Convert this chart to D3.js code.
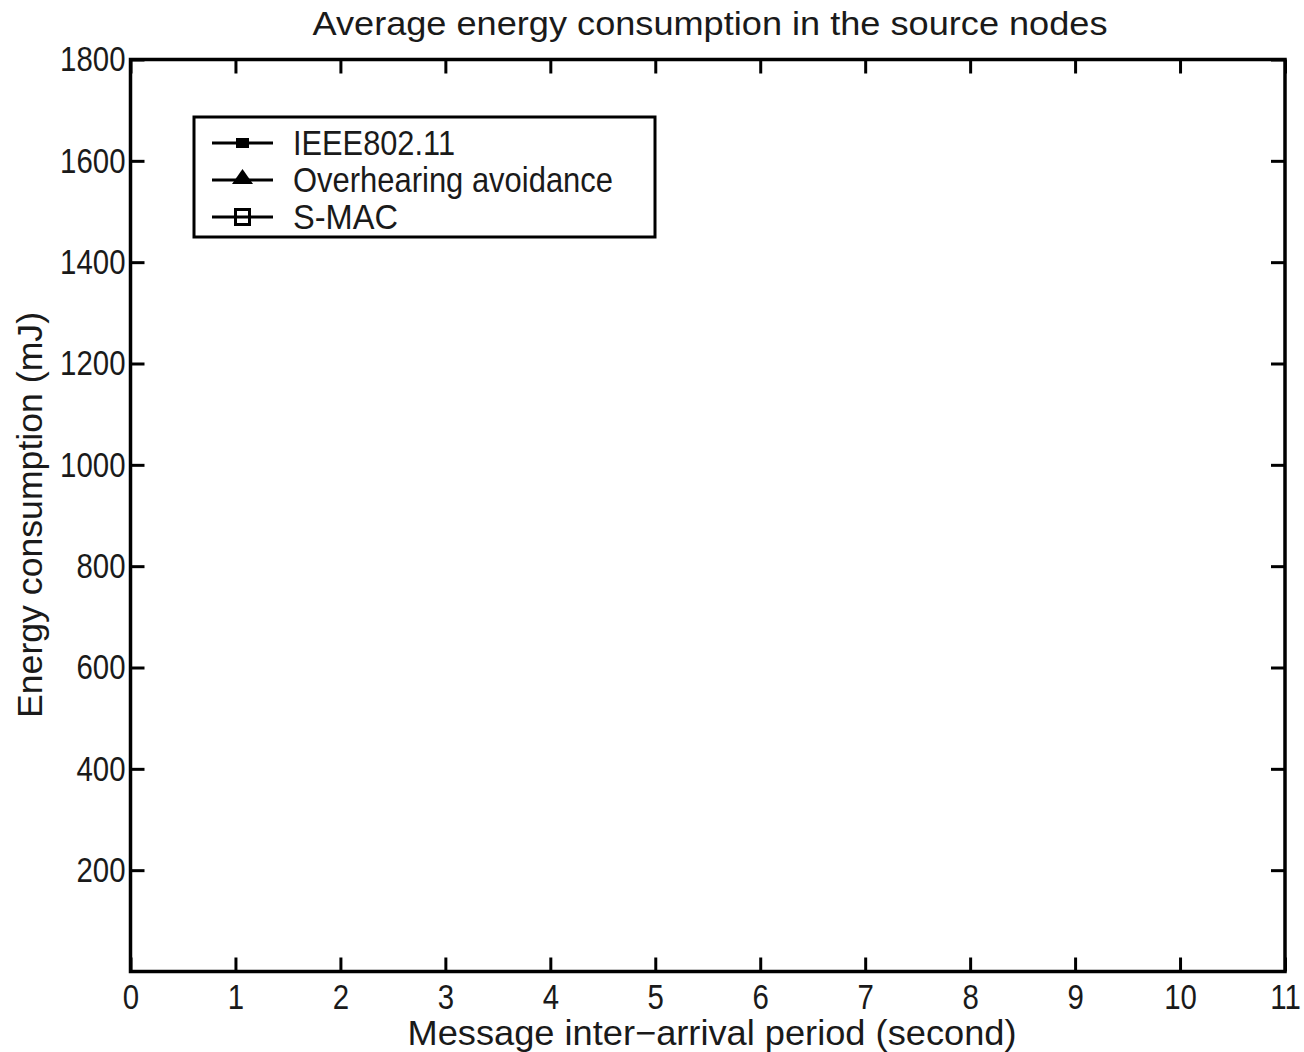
<!DOCTYPE html>
<html>
<head>
<meta charset="utf-8">
<script src="https://cdn.jsdelivr.net/npm/d3@7"></script>
<style>
  html, body { margin: 0; padding: 0; background: #fff; }
  svg text { font-family: "Liberation Sans", Arial, Helvetica, sans-serif; fill: #1a1a1a; }
</style>
</head>
<body>
<svg id="chart" width="1304" height="1052"></svg>
<script>
// chart data -- the figure has no plotted points, only the legend entries
var seriesNames = ['IEEE802.11', 'Overhearing avoidance', 'S-MAC'],
    seriesMarkers = ['square', 'triangle', 'openSquare'],
    seriesValues = [[], [], []],           // [x, y] pairs, empty in the source figure
    xDomain = [0, 11],
    yDomain = [0, 1800],
    xTicks = d3.range(0, 12, 1),
    yTicks = d3.range(200, 1801, 200),
    titleText = 'Average energy consumption in the source nodes',
    xLabel = 'Message inter\u2212arrival period (second)',
    yLabel = 'Energy consumption (mJ)';

var svg = d3.select('#chart'),
    margin = {top: 59.5, right: 19, bottom: 80.5, left: 130.5},
    width = 1304 - margin.left - margin.right,
    height = 1052 - margin.top - margin.bottom,
    x = d3.scaleLinear().domain(xDomain).range([0, width]),
    y = d3.scaleLinear().domain(yDomain).range([height, 0]),
    fontSize = 35,
    tickLen = 14;

var g = svg.append('g')
  .attr('transform', 'translate(' + margin.left + ',' + margin.top + ')');

// squeeze text horizontally, the scanned figure uses a narrow face
function narrow(sel, k) {
  sel.each(function() {
    var w = this.getComputedTextLength();
    d3.select(this).attr('textLength', w * k).attr('lengthAdjust', 'spacingAndGlyphs');
  });
}

function styleAxis(a) {
  a.select('.domain').remove();
  a.selectAll('line').attr('stroke', '#000').attr('stroke-width', 3);
  a.selectAll('text').attr('font-size', fontSize).attr('fill', '#1a1a1a')
    .attr('font-family', '"Liberation Sans", Arial, sans-serif');
}

var xAxis = g.append('g')
  .attr('transform', 'translate(0,' + height + ')')
  .call(d3.axisBottom(x).tickValues(xTicks).tickFormat(d3.format('d'))
    .tickSize(-tickLen).tickSizeOuter(0).tickPadding(13));
styleAxis(xAxis);
narrow(xAxis.selectAll('text'), 0.84);

var yAxis = g.append('g')
  .call(d3.axisLeft(y).tickValues(yTicks).tickFormat(d3.format('d'))
    .tickSize(-tickLen).tickSizeOuter(0).tickPadding(5));
styleAxis(yAxis);
narrow(yAxis.selectAll('text'), 0.84);

// mirrored ticks on top and right, no labels
var xTop = g.append('g')
  .call(d3.axisTop(x).tickValues(xTicks).tickSize(-tickLen).tickSizeOuter(0).tickFormat(''));
styleAxis(xTop);
var yRight = g.append('g')
  .attr('transform', 'translate(' + width + ',0)')
  .call(d3.axisRight(y).tickValues(yTicks).tickSize(-tickLen).tickSizeOuter(0).tickFormat(''));
styleAxis(yRight);

g.append('rect')
  .attr('width', width)
  .attr('height', height)
  .attr('fill', 'none')
  .attr('stroke', '#000')
  .attr('stroke-width', 3.5);

// series (nothing to draw, kept for completeness)
var line = d3.line()
  .x(function(d) { return x(d[0]); })
  .y(function(d) { return y(d[1]); });

g.selectAll('path.series')
  .data(seriesValues)
  .enter()
  .append('path')
  .attr('class', 'series')
  .attr('fill', 'none')
  .attr('stroke', '#000')
  .attr('stroke-width', 3)
  .attr('d', function(d) { return d.length ? line(d) : null; });

// titles
svg.append('text')
  .attr('x', 710)
  .attr('y', 35)
  .attr('text-anchor', 'middle')
  .attr('font-size', 33)
  .attr('textLength', 795)
  .attr('lengthAdjust', 'spacingAndGlyphs')
  .text(titleText);

svg.append('text')
  .attr('x', 712)
  .attr('y', 1045)
  .attr('text-anchor', 'middle')
  .attr('font-size', fontSize)
  .attr('textLength', 609)
  .attr('lengthAdjust', 'spacingAndGlyphs')
  .text(xLabel);

svg.append('text')
  .attr('transform', 'translate(42,515) rotate(-90)')
  .attr('text-anchor', 'middle')
  .attr('font-size', fontSize)
  .attr('textLength', 406)
  .attr('lengthAdjust', 'spacingAndGlyphs')
  .text(yLabel);

// legend
var legend = svg.append('g').attr('transform', 'translate(194,117)');

legend.append('rect')
  .attr('width', 461)
  .attr('height', 120)
  .attr('fill', '#fff')
  .attr('stroke', '#000')
  .attr('stroke-width', 3);

var item = legend.selectAll('g.item')
  .data(seriesNames)
  .enter()
  .append('g')
  .attr('class', 'item')
  .attr('transform', function(d, i) { return 'translate(0,' + (26 + i * 37) + ')'; });

item.append('line')
  .attr('x1', 18)
  .attr('x2', 79)
  .attr('stroke', '#000')
  .attr('stroke-width', 3);

item.each(function(d, i) {
  var it = d3.select(this), m = seriesMarkers[i];
  if (m === 'square') {
    it.append('rect').attr('x', 42).attr('y', -5).attr('width', 13).attr('height', 10).attr('fill', '#000');
  } else if (m === 'triangle') {
    it.append('path').attr('d', 'M48.5,-11L59,4L38,4Z').attr('fill', '#000');
  } else {
    it.append('rect').attr('x', 41.5).attr('y', -7.5).attr('width', 14).attr('height', 15)
      .attr('fill', 'none').attr('stroke', '#000').attr('stroke-width', 3);
  }
});

var legendWidths = [162, 320, 105];
item.append('text')
  .attr('x', 99)
  .attr('y', 12)
  .attr('font-size', fontSize)
  .attr('textLength', function(d, i) { return legendWidths[i]; })
  .attr('lengthAdjust', 'spacingAndGlyphs')
  .text(function(d) { return d; });
</script>
</body>
</html>
